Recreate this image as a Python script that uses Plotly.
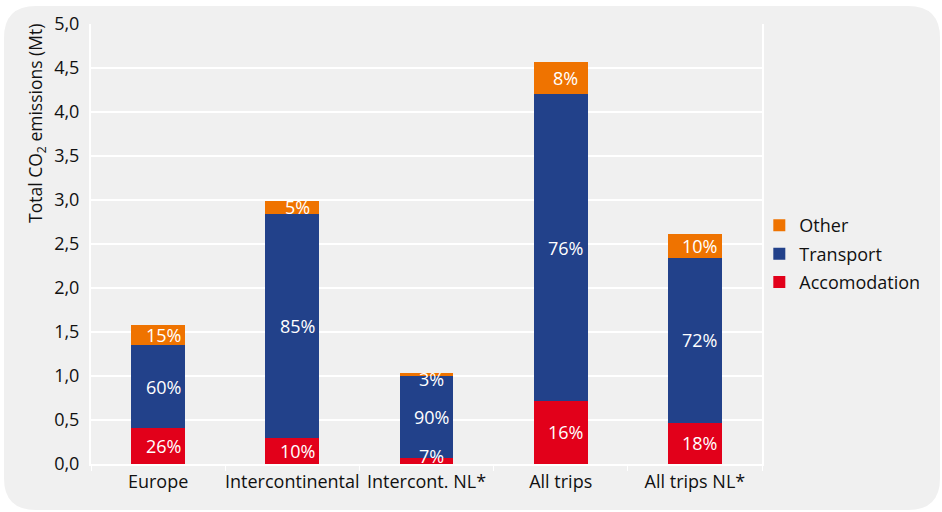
import plotly.graph_objects as go

# Trip categories and CO2 emissions per component (Mt)
categories = ["Europe", "Intercontinental", "Intercont. NL*", "All trips", "All trips NL*"]
accomodation = [0.41, 0.30, 0.07, 0.72, 0.47]
transport = [0.94, 2.545, 0.93, 3.48, 1.875]
other = [0.235, 0.145, 0.03, 0.37, 0.265]

# Share of each component in the category total
accomodation_pct = ["26%", "10%", "7%", "16%", "18%"]
transport_pct = ["60%", "85%", "90%", "76%", "72%"]
other_pct = ["15%", "5%", "3%", "8%", "10%"]

y_ticks = [0.0, 0.5, 1.0, 1.5, 2.0, 2.5, 3.0, 3.5, 4.0, 4.5, 5.0]

RED = "#E2001A"
BLUE = "#22418A"
ORANGE = "#EF7300"
PANEL = "#F0F0F0"
INK = "#111111"
FONT = "Open Sans"
SIZE = 18

fig = go.Figure()
series = [
    ("Accomodation", accomodation, RED),
    ("Transport", transport, BLUE),
    ("Other", other, ORANGE),
]
for rank, (name, vals, color) in enumerate(series):
    fig.add_trace(go.Bar(
        name=name, x=categories, y=vals, legendgroup=name,
        legendrank=len(series) - rank,
        marker=dict(color=color, line=dict(width=0)),
        width=0.4,
    ))

# Percentage labels centred in each segment, kept inside the plot
annotations = []
bases = [0.0] * len(categories)
label_sets = [accomodation_pct, transport_pct, other_pct]
for s_idx, ((name, vals, color), labels) in enumerate(zip(series, label_sets)):
    for i, (cat, v, lab) in enumerate(zip(categories, vals, labels)):
        base = bases[i]
        top = base + v
        yc = max(base + v / 2, 0.095)
        if s_idx == len(series) - 1:
            yc = min(yc, top - 0.065)
        annotations.append(dict(
            x=cat, y=yc, xref="x", yref="y", text=lab, showarrow=False,
            xshift=5, font=dict(family=FONT, size=SIZE, color="white"),
        ))
        bases[i] = top

# Vertical axis title, aligned toward the top of the axis
annotations.append(dict(
    x=-0.0806, y=0.775, xref="paper", yref="paper",
    text="Total CO<sub>2</sub> emissions (Mt)", textangle=-90,
    showarrow=False, xanchor="center", yanchor="middle",
    font=dict(family=FONT, size=17.5, color=INK),
))

# Rounded grey panel behind the chart (pixel geometry converted to paper units)
L, R, T, B = 91, 762, 24, 464
W, H = R - L, B - T
def px(xp):
    return (xp - L) / W
def py(yp):
    return (B - yp) / H
x0, x1, y0, y1, r = 4, 940, 6, 510, 32
path = (
    f"M {px(x0 + r)},{py(y0)} L {px(x1 - r)},{py(y0)} "
    f"Q {px(x1)},{py(y0)} {px(x1)},{py(y0 + r)} "
    f"L {px(x1)},{py(y1 - r)} Q {px(x1)},{py(y1)} {px(x1 - r)},{py(y1)} "
    f"L {px(x0 + r)},{py(y1)} Q {px(x0)},{py(y1)} {px(x0)},{py(y1 - r)} "
    f"L {px(x0)},{py(y0 + r)} Q {px(x0)},{py(y0)} {px(x0 + r)},{py(y0)} Z"
)

fig.update_layout(
    width=942, height=512,
    margin=dict(l=L, r=942 - R, t=T, b=512 - B, autoexpand=False),
    paper_bgcolor="white",
    plot_bgcolor=PANEL,
    barmode="stack",
    separators=",.",
    font=dict(family=FONT, size=SIZE, color=INK),
    shapes=[dict(type="path", xref="paper", yref="paper", path=path,
                 fillcolor=PANEL, line=dict(width=0), layer="below")],
    annotations=annotations,
    legend=dict(
        x=0.996, y=0.477, xanchor="left", yanchor="middle",
        traceorder="grouped", tracegroupgap=2,
        bgcolor="rgba(0,0,0,0)",
        font=dict(family=FONT, size=SIZE, color=INK),
        itemwidth=30,
    ),
    showlegend=True,
)

fig.update_xaxes(
    showgrid=False, showline=True, linecolor="white", linewidth=2,
    ticks="outside", tickson="boundaries", tickcolor="white", ticklen=5,
    tickangle=0, automargin=False,
    tickfont=dict(size=SIZE),
)
fig.update_yaxes(
    range=[0, 5], tickvals=y_ticks, tickformat=".1f",
    showgrid=True, gridcolor="white", gridwidth=1.5,
    showline=True, linecolor="white", linewidth=2, mirror=True,
    zeroline=False, ticks="", ticklabelstandoff=6, automargin=False,
    tickfont=dict(size=SIZE),
)

fig.write_html("out.html")
